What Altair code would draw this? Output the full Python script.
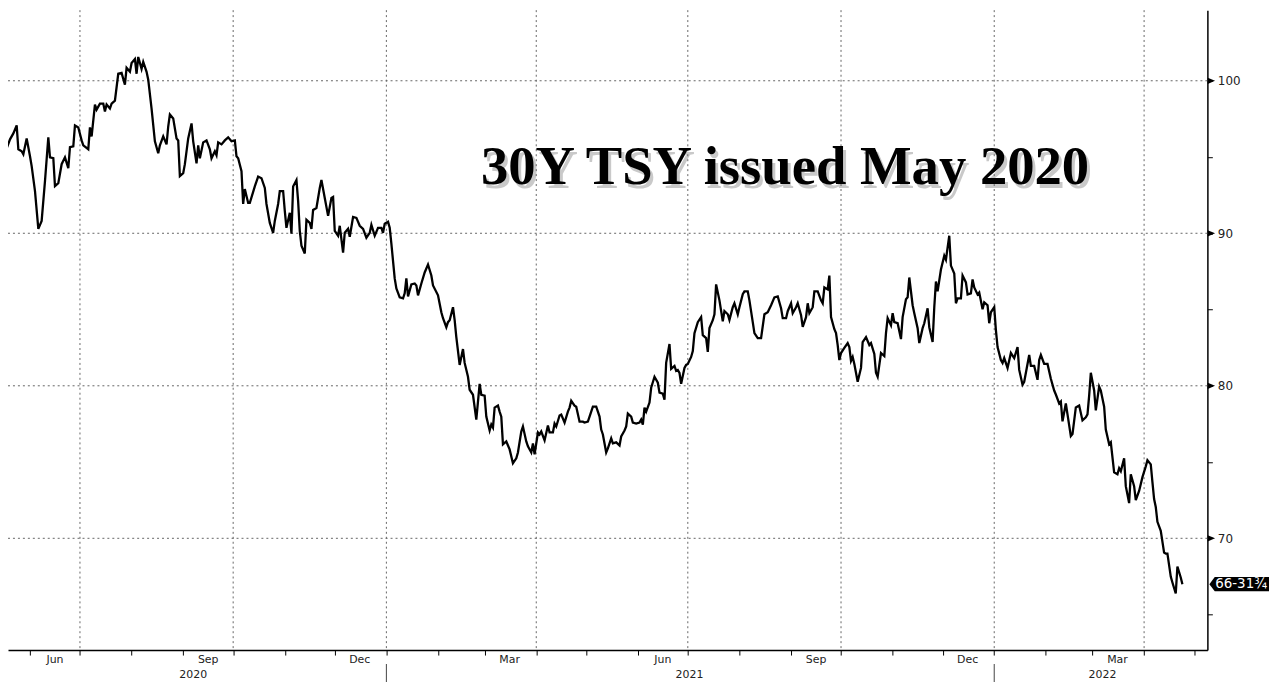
import altair as alt
import pandas as pd

# ---- data (date, price) ----
dates_2020 = ["05-14","05-16","05-17","05-18","05-20","05-22","05-24","05-25","05-27","05-28","05-30",
"06-01","06-02","06-04","06-06","06-08","06-10","06-12","06-13","06-15","06-16","06-18","06-20","06-22","06-24","06-25","06-27","06-28","06-30",
"07-02","07-03","07-06","07-07","07-08","07-10","07-11","07-13","07-15","07-16","07-17","07-19","07-20","07-22","07-24","07-26","07-28","07-29","07-31",
"08-01","08-03","08-04","08-05","08-07","08-08","08-10","08-11","08-13","08-15","08-17","08-18","08-20","08-22","08-23","08-24","08-26","08-28","08-29","08-30",
"09-01","09-02","09-04","09-06","09-07","09-09","09-10","09-11","09-13","09-15","09-17","09-18","09-20","09-21","09-22","09-24","09-26","09-28","09-30",
"10-02","10-03","10-04","10-06","10-07","10-08","10-10","10-11","10-14","10-16","10-18","10-20","10-21","10-23","10-25","10-26","10-28","10-29","10-31",
"11-01","11-02","11-04","11-05","11-06","11-08","11-09","11-10","11-11","11-13","11-14","11-16","11-17","11-18","11-20","11-22","11-23","11-25","11-27","11-29","11-30",
"12-01","12-03","12-04","12-06","12-07","12-09","12-10","12-12","12-14","12-16","12-18","12-20","12-22","12-23","12-25","12-27","12-29","12-30","12-31"]
prices_2020 = [97.46,99.02,98.20,95.57,96.16,96.55,97.07,95.51,95.38,95.18,96.22,
95.05,94.40,92.77,90.29,90.81,93.42,96.29,94.98,94.92,93.10,93.29,94.53,94.98,94.27,95.64,95.70,97.07,96.94,
96.09,95.77,95.51,96.94,96.35,98.44,98.11,98.50,98.50,97.98,98.44,98.18,98.50,98.70,100.46,100.52,99.74,100.85,100.59,
101.17,101.43,100.46,101.56,100.78,101.24,100.59,100.07,98.18,96.03,95.25,95.77,96.35,95.83,97.00,97.79,97.53,96.22,96.09,93.75,
93.94,94.53,96.22,97.20,96.03,94.59,95.77,94.92,95.96,96.09,95.51,94.92,95.38,95.12,95.96,95.83,96.09,96.29,96.03,
96.09,95.05,94.92,94.07,91.92,92.90,91.99,91.99,93.07,93.72,93.61,92.97,91.92,90.68,90.03,90.81,91.92,92.77,92.77,
91.47,90.36,91.34,89.97,93.07,93.49,92.12,90.16,89.19,88.67,90.88,90.68,90.29,91.53,91.66,92.97,93.49,92.31,91.14,92.31,92.38,
90.16,89.84,90.49,88.73,90.03,90.29,89.77,91.07,91.01,90.49,90.29,89.71,90.03,90.55,89.84,90.36,90.36,90.03,90.62]

dates_2021 = ["01-02","01-03","01-04","01-06","01-07","01-09","01-11","01-12","01-13","01-14","01-16","01-18","01-19","01-20","01-22","01-24","01-25","01-26","01-28","01-29",
"02-01","02-03","02-04","02-06","02-07","02-08","02-10","02-11","02-12","02-14","02-16","02-17","02-19","02-20","02-22","02-24","02-26","02-27",
"03-01","03-02","03-04","03-05","03-06","03-07","03-09","03-10","03-11","03-12","03-14","03-16","03-18","03-20","03-21","03-23","03-24","03-26","03-27","03-29","03-30","03-31",
"04-02","04-03","04-04","04-06","04-08","04-09","04-11","04-12","04-13","04-15","04-16","04-18","04-20","04-21","04-22","04-24","04-25","04-27","04-29","04-30",
"05-02","05-03","05-05","05-07","05-09","05-10","05-11","05-13","05-14","05-16","05-17","05-19","05-21","05-22","05-24","05-25","05-26","05-28","05-29","05-31",
"06-02","06-03","06-04","06-05","06-06","06-08","06-09","06-11","06-13","06-14","06-16","06-17","06-18","06-20","06-21","06-23","06-24","06-25","06-26","06-27","06-29","06-30",
"07-01","07-03","07-04","07-05","07-07","07-09","07-10","07-12","07-13","07-14","07-16","07-17","07-18","07-20","07-22","07-23","07-25","07-26","07-28","07-29","07-31",
"08-01","08-03","08-04","08-06","08-07","08-09","08-10","08-12","08-14","08-16","08-18","08-20","08-22","08-24","08-26","08-27","08-29","08-30",
"09-01","09-02","09-04","09-05","09-07","09-08","09-10","09-11","09-12","09-14","09-15","09-17","09-19","09-20","09-21","09-23","09-24","09-25","09-27","09-28","09-29","09-30",
"10-01","10-03","10-05","10-06","10-07","10-08","10-09","10-11","10-13","10-14","10-16","10-18","10-19","10-21","10-22","10-23","10-25","10-27","10-28","10-29","10-31",
"11-01","11-02","11-04","11-06","11-07","11-09","11-10","11-11","11-13","11-14","11-16","11-17","11-19","11-20","11-22","11-23","11-25","11-26","11-27","11-28","11-30",
"12-02","12-03","12-05","12-06","12-08","12-09","12-10","12-12","12-13","12-15","12-16","12-18","12-19","12-20","12-22","12-23","12-25","12-26","12-28","12-29","12-30"]
prices_2021 = [90.75,90.36,89.32,87.04,86.38,85.80,85.73,86.06,87.04,85.86,86.65,86.71,86.58,85.93,86.71,87.43,87.69,87.95,87.23,86.58,
85.93,84.82,84.43,83.84,84.17,84.30,85.15,84.30,83.19,81.37,82.41,81.50,80.59,79.74,79.41,77.78,80.13,79.41,
79.35,77.98,77.07,77.46,77.26,78.57,78.70,78.31,77.98,76.16,76.35,75.83,74.92,75.24,75.63,77.00,77.33,76.35,76.03,75.63,76.22,75.50,
76.94,76.81,77.00,76.42,77.39,76.94,76.94,77.52,77.33,78.05,78.11,77.59,78.31,78.57,79.02,78.70,78.63,77.65,77.65,77.59,
77.65,77.98,78.63,78.63,77.98,77.13,76.81,75.63,75.89,76.55,76.22,76.29,76.09,76.68,77.07,77.33,78.18,77.98,77.59,77.52,
77.59,77.79,77.46,78.57,78.31,78.90,79.87,80.59,80.20,79.55,79.48,79.09,81.50,82.74,81.11,81.30,80.98,81.04,80.85,80.13,81.17,81.37,
81.43,81.89,82.28,83.45,84.17,84.50,83.32,83.13,82.22,83.78,84.30,84.69,86.65,85.60,84.23,84.90,84.69,84.32,85.15,85.41,84.69,
85.15,86.00,86.19,86.19,85.60,84.17,83.45,83.13,83.13,84.69,84.82,85.28,85.80,85.86,85.08,84.43,84.43,84.89,
85.41,84.76,85.15,85.41,84.63,83.86,84.50,85.41,84.76,85.15,86.19,86.19,85.60,85.41,86.45,86.32,87.23,84.50,83.71,83.45,82.67,81.69,
82.15,82.48,82.80,82.54,81.63,81.89,81.43,80.26,81.17,82.87,83.19,82.67,82.80,82.09,80.85,80.59,82.15,81.95,83.45,84.43,83.97,
84.76,84.17,84.10,83.06,84.50,85.67,85.80,87.10,85.28,84.76,83.78,82.80,83.78,84.10,85.08,83.84,82.87,85.15,86.84,86.19,87.62,
88.53,88.27,89.84,87.88,87.36,85.41,85.73,85.73,87.23,86.78,85.99,86.06,86.97,86.45,85.99,86.12,85.02,85.47,85.28,84.10,84.82]

dates_2022 = ["01-01","01-02","01-03","01-05","01-06","01-07","01-09","01-11","01-13","01-15","01-16","01-18","01-19","01-22","01-23","01-25","01-27","01-28","01-29","01-31",
"02-02","02-04","02-06","02-07","02-09","02-10","02-11","02-13","02-14","02-16","02-17","02-19","02-21","02-23","02-25","02-26","02-27","02-28",
"03-02","03-03","03-05","03-06","03-08","03-09","03-11","03-12","03-14","03-16","03-17","03-18","03-20","03-21","03-23","03-24","03-26","03-27","03-29","03-31",
"04-02","04-03","04-05","04-06","04-07","04-08","04-09","04-11","04-13","04-14","04-15","04-17","04-18","04-20","04-21","04-23","04-24"]
prices_2022 = [85.15,83.65,82.54,81.69,81.50,81.82,81.17,82.15,81.82,82.54,81.04,80.07,80.26,82.02,81.30,81.30,80.39,81.69,82.02,81.43,
81.43,80.46,79.69,79.43,78.84,78.97,77.67,78.84,78.13,76.70,76.83,78.58,78.71,77.73,77.93,78.13,79.36,80.85,
79.69,78.39,79.95,79.69,78.63,77.13,76.16,76.29,74.33,74.20,74.59,74.40,75.24,73.42,72.31,74.20,73.42,72.51,73.10,74.01,
74.72,75.12,74.85,73.68,72.57,72.05,71.08,70.49,69.06,69.00,69.00,67.49,67.10,66.38,68.15,67.43,66.99]

title_text = "30Y TSY issued May 2020"
last_label = "66-31¾"

month_ticks = ["2020-06-01","2020-07-01","2020-08-01","2020-09-01","2020-10-01","2020-11-01","2020-12-01",
"2021-01-01","2021-02-01","2021-03-01","2021-04-01","2021-05-01","2021-06-01","2021-07-01","2021-08-01",
"2021-09-01","2021-10-01","2021-11-01","2021-12-01","2022-01-01","2022-02-01","2022-03-01","2022-04-01","2022-05-01"]
quarter_grid = ["2020-07-01","2020-10-01","2021-01-01","2021-04-01","2021-07-01","2021-10-01","2022-01-01","2022-04-01"]
month_label_dates = ["2020-06-16","2020-09-16","2020-12-16","2021-03-16","2021-06-16","2021-09-16","2021-12-16","2022-03-16"]
month_label_text = ["Jun","Sep","Dec","Mar","Jun","Sep","Dec","Mar"]
year_label_dates = ["2020-09-07","2021-07-02","2022-03-07"]
year_label_text = ["2020","2021","2022"]
year_breaks = ["2021-01-01","2022-01-01"]
y_major = [70, 80, 90, 100]
y_ticks = [65, 70, 75, 80, 85, 90, 95, 100]

# ---- tables ----
dates = ([f"2020-{d}" for d in dates_2020] + [f"2021-{d}" for d in dates_2021]
         + [f"2022-{d}" for d in dates_2022])
prices = prices_2020 + prices_2021 + prices_2022
df = pd.DataFrame({"date": dates, "price": prices})
last = df.tail(1).assign(label=last_label)

W, H = 1207, 644
FONT = "DejaVu Sans"

def dt(s):
    y, m, d = [int(v) for v in s.split("-")]
    return alt.DateTime(year=y, month=m, date=d, utc=True)

xscale = alt.Scale(domain=[alt.DateTime(year=2020, month=5, date=18, hours=19, utc=True),
                           alt.DateTime(year=2022, month=5, date=9, utc=True)], nice=False)
yscale = alt.Scale(domain=[62.67, 104.63], nice=False, zero=False)

xaxis = alt.Axis(values=[dt(s) for s in month_ticks], labels=False, grid=False, tickSize=5,
                 tickColor="black", domainColor="black", domainWidth=1.5, tickWidth=1, title=None)
yaxis = alt.Axis(orient="right", values=y_ticks, labelExpr="datum.value % 10 == 0 ? datum.value : ''",
                 tickSize=5, labelPadding=5, domainColor="black", domainWidth=1.5, tickColor="black",
                 labelFont=FONT, labelFontSize=12, labelColor="#222", grid=False, title=None)

vgrid = alt.Chart(pd.DataFrame({"d": quarter_grid})).mark_rule(
    color="#666", strokeDash=[2, 3], strokeWidth=1
).encode(x=alt.X("d:T", scale=xscale, axis=xaxis))

hgrid = alt.Chart(pd.DataFrame({"v": y_major})).mark_rule(
    color="#666", strokeDash=[2, 3], strokeWidth=1
).encode(y=alt.Y("v:Q", scale=yscale, axis=yaxis))

line = alt.Chart(df).mark_line(color="black", strokeWidth=2.3, clip=True).encode(
    x=alt.X("date:T", scale=xscale, axis=xaxis),
    y=alt.Y("price:Q", scale=yscale, axis=yaxis),
)

tdf = pd.DataFrame({"t": [title_text]})
shadow = alt.Chart(tdf).mark_text(font="Liberation Serif", fontWeight="bold", fontSize=55,
                                  align="center", baseline="alphabetic", color="#666", opacity=0.35).encode(
    x=alt.value(785), y=alt.value(179), text="t:N")
title = alt.Chart(tdf).mark_text(font="Liberation Serif", fontWeight="bold", fontSize=55,
                                 align="center", baseline="alphabetic", color="black").encode(
    x=alt.value(782), y=alt.value(175), text="t:N")

mlabels = alt.Chart(pd.DataFrame({"d": month_label_dates, "t": month_label_text})).mark_text(
    font=FONT, fontSize=11, color="#222", align="center", baseline="alphabetic"
).encode(x=alt.X("d:T", scale=xscale, axis=xaxis), y=alt.value(H + 13), text="t:N")

ylabels = alt.Chart(pd.DataFrame({"d": year_label_dates, "t": year_label_text})).mark_text(
    font=FONT, fontSize=11, color="#222", align="center", baseline="alphabetic"
).encode(x=alt.X("d:T", scale=xscale, axis=xaxis), y=alt.value(H + 28), text="t:N")

ybreaks = alt.Chart(pd.DataFrame({"d": year_breaks})).mark_rule(color="#444", strokeWidth=1).encode(
    x=alt.X("d:T", scale=xscale, axis=xaxis), y=alt.value(H + 14), y2=alt.value(H + 34))

tri = alt.Chart(pd.DataFrame({"v": y_major})).mark_point(
    shape="M-1,-0.85 L1,0 L-1,0.85 Z", filled=True, color="black", size=55, opacity=1
).encode(x=alt.value(W + 4), y=alt.Y("v:Q", scale=yscale, axis=yaxis))

box = alt.Chart(last).mark_point(
    shape="M-1,0 L-0.82,-0.24 L1,-0.24 L1,0.24 L-0.82,0.24 Z",
    filled=True, color="black", size=3600, opacity=1
).encode(x=alt.value(W + 32), y=alt.Y("price:Q", scale=yscale, axis=yaxis))

boxtext = alt.Chart(last).mark_text(font=FONT, fontSize=13.5, color="white", align="center",
                                    baseline="middle").encode(
    x=alt.value(W + 34), y=alt.Y("price:Q", scale=yscale, axis=yaxis), text="label:N")

chart = alt.layer(vgrid, hgrid, line, shadow, title, mlabels, ylabels, ybreaks, tri, box, boxtext).properties(
    width=W, height=H,
    autosize=alt.AutoSizeParams(type="none"),
    padding={"left": 0, "top": 0, "right": 62, "bottom": 38},
).configure(background="white", view=alt.ViewConfig(strokeWidth=0))

chart.save("out.html", embed_options={"renderer": "svg", "actions": False})
